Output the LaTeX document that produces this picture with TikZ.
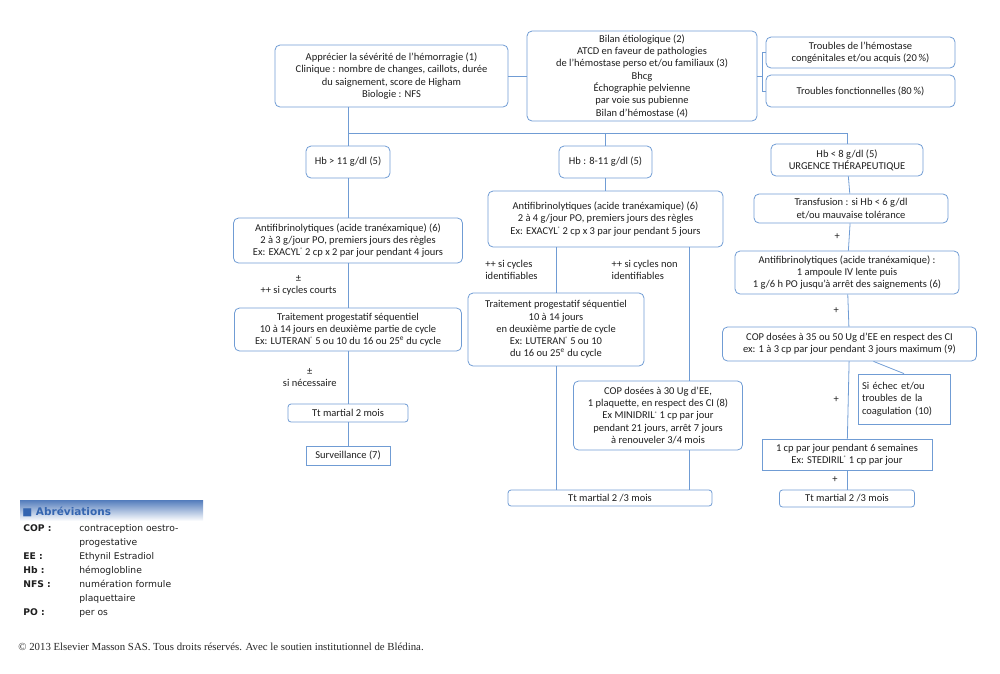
\documentclass[tikz,border=0pt]{standalone}
\usepackage{fontspec}
\setmainfont{Carlito}
\newfontfamily\legfont{DejaVu Sans}
\newfontfamily\copyfont{Liberation Serif}
\usetikzlibrary{calc,positioning}
\definecolor{boxblue}{RGB}{112,156,212}
\definecolor{txtgrey}{RGB}{30,30,30}
\definecolor{legblue}{RGB}{52,101,176}
\newcommand{\regmark}{\raisebox{0.75ex}{\fontsize{5}{5}\selectfont ®}}

\begin{document}
\begin{tikzpicture}[x=1pt, y=-1pt, line width=0.8pt, font=\fontsize{10.5}{12.3}\selectfont,
  lbl/.style={text=txtgrey, inner sep=1pt, align=center},
  legkey/.style={anchor=base west, text=txtgrey, inner sep=0pt, font=\legfont\bfseries\fontsize{9.2}{10}\selectfont},
  legval/.style={anchor=base west, text=txtgrey, inner sep=0pt, font=\legfont\fontsize{9.2}{10}\selectfont}]
\useasboundingbox (0,0) rectangle (1000,673);
   \begin{scope}[every node/.style={draw=boxblue, rounded corners=5pt, align=center, text=txtgrey, inner sep=1pt}]
    \node (sev) [minimum width=233pt, minimum height=62pt] at (391.5,76) {Apprécier la sévérité de l’hémorragie (1)\\Clinique : nombre de changes, caillots, durée\\du saignement, score de Higham\\Biologie : NFS};
    \node (bil) [minimum width=230pt, minimum height=90pt] at (642,76) {Bilan étiologique (2)\\ATCD en faveur de pathologies\\de l’hémostase perso et/ou familiaux (3)\\Bhcg\\Échographie pelvienne\\par voie sus pubienne\\Bilan d’hémostase (4)};
    \node (tro1) [minimum width=189pt, minimum height=31pt] at (860.5,52.5) {Troubles de l’hémostase\\congénitales et/ou acquis (20\,\%)};
    \node (tro2) [minimum width=189pt, minimum height=32pt] at (860.5,91) {Troubles fonctionnelles (80\,\%)};
%hemoglobine
    \node (hb1) [minimum width=84pt, minimum height=32pt] at (348,162) {Hb > 11 g/dl (5)};
    \node (hb2) [minimum width=93pt, minimum height=32pt] at (605.5,162) {Hb : 8-11 g/dl (5)};
    \node (hb3) [minimum width=152pt, minimum height=32pt] at (847,160) {Hb < 8 g/dl (5)\\URGENCE THÉRAPEUTIQUE};
%left column
    \node (af1) [minimum width=229pt, minimum height=45pt] at (348,240.5) {Antifibrinolytiques (acide tranéxamique) (6)\\2 à 3 g/jour PO, premiers jours des règles\\Ex: EXACYL\regmark{} 2 cp x 2 par jour pendant 4 jours};
    \node (tp1) [minimum width=227pt, minimum height=43pt] at (348,329.5) {Traitement progestatif séquentiel\\10 à 14 jours en deuxième partie de cycle\\Ex: LUTERAN\regmark{} 5 ou 10 du 16 ou 25\textsuperscript{e} du cycle};
    \node (tm1) [minimum width=120pt, minimum height=18pt, rounded corners=3pt] at (348,413) {Tt martial 2 mois};
    \node (surv) [minimum width=84pt, minimum height=19pt, sharp corners] at (348,455.5) {Surveillance (7)};
%middle column
    \node (af2) [minimum width=235pt, minimum height=56pt] at (605.5,219) {Antifibrinolytiques (acide tranéxamique) (6)\\2 à 4 g/jour PO, premiers jours des règles\\Ex: EXACYL\regmark{} 2 cp x 3 par jour pendant 5 jours};
    \node (tp2) [minimum width=176pt, minimum height=73pt] at (556,329.5) {Traitement progestatif séquentiel\\10 à 14 jours\\en deuxième partie de cycle\\Ex: LUTERAN\regmark{} 5 ou 10\\du 16 ou 25\textsuperscript{e} du cycle};
    \node (cop30) [minimum width=169pt, minimum height=69pt] at (658,415.5) {COP dosées à 30 Ug d’EE,\\1 plaquette, en respect des CI (8)\\Ex MINIDRIL\regmark{} 1 cp par jour\\pendant 21 jours, arrêt 7 jours\\à renouveler 3/4 mois};
    \node (tm2) [minimum width=204pt, minimum height=16pt, rounded corners=3pt] at (610,498) {Tt martial 2 /3 mois};
%right column
    \node (trans) [minimum width=194pt, minimum height=29pt] at (851,208.5) {Transfusion : si Hb < 6 g/dl\\et/ou mauvaise tolérance};
    \node (af3) [minimum width=224pt, minimum height=43pt] at (847,272.5) {Antifibrinolytiques (acide tranéxamique) :\\1 ampoule IV lente puis\\1 g/6 h PO jusqu’à arrêt des saignements (6)};
    \node (cop35) [minimum width=254pt, minimum height=34pt] at (849.5,344) {COP dosées à 35 ou 50 Ug d’EE en respect des CI\\ex: 1 à 3 cp par jour pendant 3 jours maximum (9)};
    \node (echec) [sharp corners, align=left, text width=84pt, inner sep=4pt, minimum height=50pt] at (904,399) {Si échec et/ou\\troubles de la\\coagulation (10)};
    \node (cp6) [minimum width=170pt, minimum height=31pt, sharp corners] at (847,454.5) {1 cp par jour pendant 6 semaines\\Ex: STEDIRIL\regmark{} 1 cp par jour};
    \node (tm3) [minimum width=135pt, minimum height=17pt, rounded corners=3pt] at (847,498.5) {Tt martial 2 /3 mois};
   \end{scope}
   \coordinate (split) at (762,76);
   \coordinate (busL) at (348,133);
   \coordinate (busM) at (605.5,133);
   \coordinate (busR) at (847,133);
   \coordinate (xr) at (689,0);
   \begin{scope}[every edge/.style={draw=boxblue, line width=0.8pt}]
    \draw (sev) edge (bil);
    \draw[boxblue] (bil) -- (split);
    \draw[boxblue] (split) |- (tro1);
    \draw[boxblue] (split) |- (tro2);
    \draw[boxblue] (sev.south -| busL) -- (busL) -- (busR);
    \draw (busL) edge (hb1);
    \draw (busM) edge (hb2);
    \draw (busR) edge (hb3);
    \draw (hb1) edge (af1);
    \draw (af1) edge node[lbl, left=10pt]{±\\++ si cycles courts} (tp1);
    \draw (tp1) edge node[lbl, left=10pt]{±\\si nécessaire} (tm1);
    \draw (tm1) edge (surv);
    \draw (hb2) edge (af2);
    \draw (af2.south -| tp2) edge node[lbl, left=17pt, align=left]{++ si cycles\\identifiables} (tp2);
    \draw (af2.south -| xr) edge node[lbl, pos=0.17, left=10pt, align=left]{++ si cycles non\\identifiables} (cop30.north -| xr);
    \draw (tp2) edge (tp2 |- tm2.north);
    \draw (cop30.south -| xr) edge (tm2.north -| xr);
    \draw (hb3) edge (trans);
    \draw (trans) edge node[lbl, left=8pt]{+} (af3);
    \draw (af3) edge node[lbl, left=8pt]{+} (cop35);
    \draw (cop35) edge node[lbl, left=8pt]{+} (cp6);
    \draw ($(cop35.south)+(24,0)$) edge (echec.north);
    \draw (cp6) edge node[lbl, left=8pt]{+} (tm3);
   \end{scope}
%abbreviations
   \shade[top color=legblue!85, bottom color=white] (20,500) rectangle (203,521);
   \node (legtitle) [anchor=base west, text=legblue, inner sep=0pt, font=\legfont\bfseries\fontsize{10.5}{12}\selectfont] at (22,515) {■ Abréviations};
   \node (kcop) [legkey] at (23,531.5) {COP :};
   \node (vcop) [legval] at (79,531.5) {contraception oestro-};
   \node (vcop2) [legval] at (79,545.5) {progestative};
   \node (kee) [legkey] at (23,559.5) {EE :};
   \node (vee) [legval] at (79,559.5) {Ethynil Estradiol};
   \node (khb) [legkey] at (23,573.5) {Hb :};
   \node (vhb) [legval] at (79,573.5) {hémoglobline};
   \node (knfs) [legkey] at (23,587.5) {NFS :};
   \node (vnfs) [legval] at (79,587.5) {numération formule};
   \node (vnfs2) [legval] at (79,601.5) {plaquettaire};
   \node (kpo) [legkey] at (23,615.5) {PO :};
   \node (vpo) [legval] at (79,615.5) {per os};
   \node (copy) [anchor=base west, inner sep=0pt, font=\copyfont\fontsize{10.8}{12}\selectfont, text=black!85] at (18,650.5) {© 2013 Elsevier Masson SAS. Tous droits réservés. Avec le soutien institutionnel de Blédina.};
\end{tikzpicture}
\end{document}
